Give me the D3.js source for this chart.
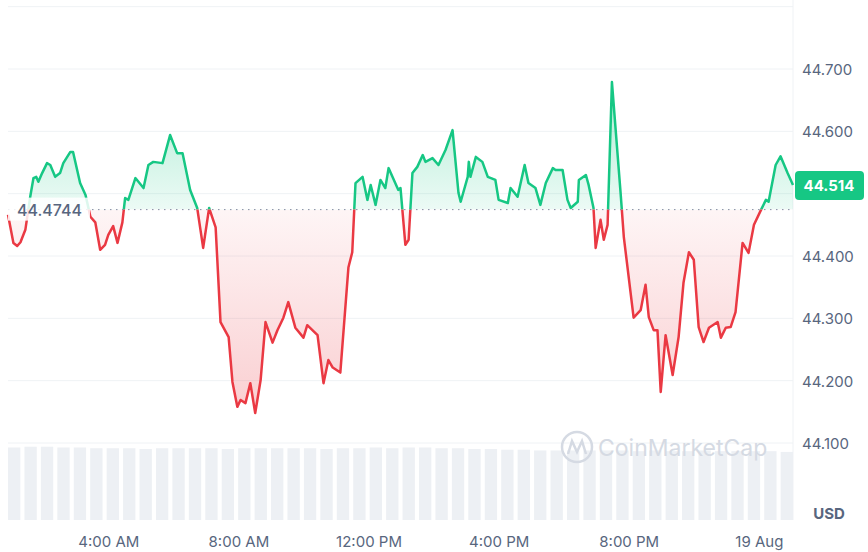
<!DOCTYPE html><html><head><meta charset="utf-8">
<script src="https://cdn.jsdelivr.net/npm/d3@7"></script>
<style>body{margin:0;background:#fff}text{font-family:Inter,"Open Sans",sans-serif}</style></head><body>
<svg id="c" width="868" height="552"></svg>
<script>
const minutes=[55,65,72,78,87,96,102,107,111,118,127,133,142,151,157,170,175,188,198,207,216,225,234,240,249,257,266,271,277,290,305,314,323,340,354,367,377,391,404,415,426,438,447,462,469,478,484,493,502,511,521,530,543,552,563,572,585,600,607,626,637,646,654,668,683,690,696,709,718,724,733,742,751,757,775,779,788,794,801,810,820,825,838,849,862,875,886,890,903,905,908,918,930,940,954,960,977,982,995,1008,1015,1028,1037,1047,1060,1065,1078,1087,1093,1106,1108,1121,1126,1135,1139,1148,1154,1161,1169,1185,1191,1209,1222,1231,1237,1246,1253,1259,1268,1281,1292,1301,1311,1320,1329,1338,1348,1364,1370,1379,1388,1397,1410,1421,1431,1444,1453,1458,1471,1480,1493,1503];
const prices=[44.466,44.421,44.416,44.422,44.442,44.495,44.525,44.527,44.519,44.533,44.549,44.546,44.527,44.533,44.549,44.567,44.567,44.517,44.498,44.463,44.454,44.410,44.418,44.434,44.448,44.421,44.454,44.493,44.490,44.525,44.509,44.546,44.551,44.549,44.594,44.565,44.565,44.506,44.477,44.413,44.477,44.446,44.294,44.270,44.198,44.158,44.169,44.164,44.196,44.148,44.201,44.294,44.261,44.281,44.301,44.326,44.285,44.269,44.289,44.273,44.196,44.233,44.221,44.213,44.382,44.406,44.517,44.527,44.490,44.514,44.482,44.522,44.509,44.541,44.506,44.509,44.418,44.426,44.533,44.543,44.562,44.551,44.557,44.546,44.570,44.602,44.501,44.487,44.527,44.551,44.527,44.559,44.551,44.527,44.522,44.490,44.485,44.509,44.495,44.546,44.517,44.509,44.482,44.517,44.541,44.538,44.538,44.490,44.477,44.487,44.522,44.530,44.514,44.477,44.413,44.458,44.426,44.450,44.679,44.501,44.430,44.301,44.313,44.354,44.302,44.281,44.281,44.182,44.273,44.209,44.270,44.357,44.406,44.394,44.286,44.262,44.285,44.294,44.269,44.285,44.286,44.310,44.421,44.405,44.450,44.474,44.490,44.487,44.546,44.560,44.533,44.514];
const volumes=[98,99,99,98,98,97,97,97,96,97,97,97,97,96,97,97,97,97,97,96,97,97,98,97,98,98,97,97,96,96,95,95,94,94,94,94,94,94,93,94,93,93,94,93,93,93,93,92];
const yTicks=[44.1,44.2,44.3,44.4,44.5,44.6,44.7,44.8];
const yLabels=["44.100","44.200","44.300","44.400","44.600","44.700"];
const baseline=44.4744, lastPrice="44.514";
const t0=new Date(2024,7,18,0,0);
const data=minutes.map((m,i)=>({t:new Date(+t0+m*60000),p:prices[i]}));
const svg=d3.select("#c");
const L=8,R=793;
const x=d3.scaleTime().domain([data[0].t,data[data.length-1].t]).range([L,R]);
const y=d3.scaleLinear().domain([44.1,44.7]).range([443,69]);
const green="#16c784",red="#ea3943";
svg.append("g").selectAll("line").data(yTicks).join("line").attr("x1",L).attr("x2",R)
 .attr("y1",d=>y(d)).attr("y2",d=>y(d)).attr("stroke","#eff2f5");
svg.append("line").attr("x1",R).attr("x2",R).attr("y1",0).attr("y2",520).attr("stroke","#eff2f5");
const vx=d3.scaleBand().domain(d3.range(volumes.length)).range([L,R]).paddingInner(0.25);
const vy=d3.scaleLinear().domain([0,100]).range([520,446]);
svg.append("g").selectAll("rect").data(volumes).join("rect").attr("x",(d,i)=>vx(i)).attr("width",vx.bandwidth())
 .attr("y",d=>vy(d)).attr("height",d=>520-vy(d)).attr("fill","#edf0f4");
const wm=svg.append("g").attr("fill","none").attr("stroke","#d5dae3").attr("stroke-width",2.5);
wm.append("circle").attr("cx",577).attr("cy",447).attr("r",15);
wm.append("path").attr("d","M568,454 L572,441 L577,452 L582,441 L586,454");
svg.append("text").attr("x",598).attr("y",456).attr("font-size",23).attr("fill","#d5dae3").text("CoinMarketCap");
const defs=svg.append("defs");
const gg=defs.append("linearGradient").attr("id","gg").attr("x1",0).attr("x2",0).attr("gradientUnits","userSpaceOnUse").attr("y1",y(44.68)).attr("y2",y(baseline));
gg.append("stop").attr("offset",0).attr("stop-color",green).attr("stop-opacity",0.35);
gg.append("stop").attr("offset",1).attr("stop-color",green).attr("stop-opacity",0.08);
const rg=defs.append("linearGradient").attr("id","rg").attr("x1",0).attr("x2",0).attr("gradientUnits","userSpaceOnUse").attr("y1",y(baseline)).attr("y2",y(44.14));
rg.append("stop").attr("offset",0).attr("stop-color",red).attr("stop-opacity",0.05);
rg.append("stop").attr("offset",1).attr("stop-color",red).attr("stop-opacity",0.25);
const yb=y(baseline);
defs.append("clipPath").attr("id","above").append("rect").attr("x",0).attr("y",0).attr("width",868).attr("height",yb);
defs.append("clipPath").attr("id","below").append("rect").attr("x",0).attr("y",yb).attr("width",868).attr("height",552-yb);
const area=d3.area().x(d=>x(d.t)).y0(yb).y1(d=>y(d.p));
const line=d3.line().x(d=>x(d.t)).y(d=>y(d.p));
svg.append("path").datum(data).attr("d",area).attr("fill","url(#gg)").attr("clip-path","url(#above)");
svg.append("path").datum(data).attr("d",area).attr("fill","url(#rg)").attr("clip-path","url(#below)");
svg.append("path").datum(data).attr("d",line).attr("fill","none").attr("stroke",green).attr("stroke-width",2.5).attr("stroke-linejoin","round").attr("clip-path","url(#above)");
svg.append("path").datum(data).attr("d",line).attr("fill","none").attr("stroke",red).attr("stroke-width",2.5).attr("stroke-linejoin","round").attr("clip-path","url(#below)");
svg.append("line").attr("x1",L).attr("x2",R).attr("y1",yb).attr("y2",yb).attr("stroke","#858ca2").attr("stroke-dasharray","1.5,4.5");
svg.append("rect").attr("x",8).attr("y",yb-12).attr("width",82).attr("height",23).attr("fill","#fff").attr("opacity",0.85);
svg.append("text").attr("x",17).attr("y",yb+6).attr("font-size",16).attr("font-weight",500).attr("fill","#58667e").text(String(baseline));
svg.append("g").selectAll("text").data(yLabels).join("text").attr("x",802).attr("y",d=>y(+d)+6)
 .attr("font-size",15).attr("fill","#58667e").text(d=>d);
svg.append("rect").attr("x",795).attr("y",y(+lastPrice)-14).attr("width",69).attr("height",29).attr("rx",4).attr("fill",green);
svg.append("text").attr("x",829).attr("y",y(+lastPrice)+6).attr("text-anchor","middle").attr("font-size",15).attr("font-weight",700).attr("fill","#fff").text(lastPrice);
svg.append("text").attr("x",829).attr("y",519).attr("text-anchor","middle").attr("font-size",15).attr("font-weight",700).attr("fill","#58667e").text("USD");
const xa=svg.append("g").attr("transform","translate(0,530)").call(d3.axisBottom(x).ticks(d3.timeHour.every(4)).tickSize(0)
 .tickFormat(d=>d.getHours()===0?d3.timeFormat("%-d %b")(d):d3.timeFormat("%-I:%M %p")(d)));
xa.select(".domain").remove();
xa.selectAll("text").attr("font-size",15).attr("fill","#58667e").attr("font-family","Inter,sans-serif").attr("dy","0.9em");
</script></body></html>
